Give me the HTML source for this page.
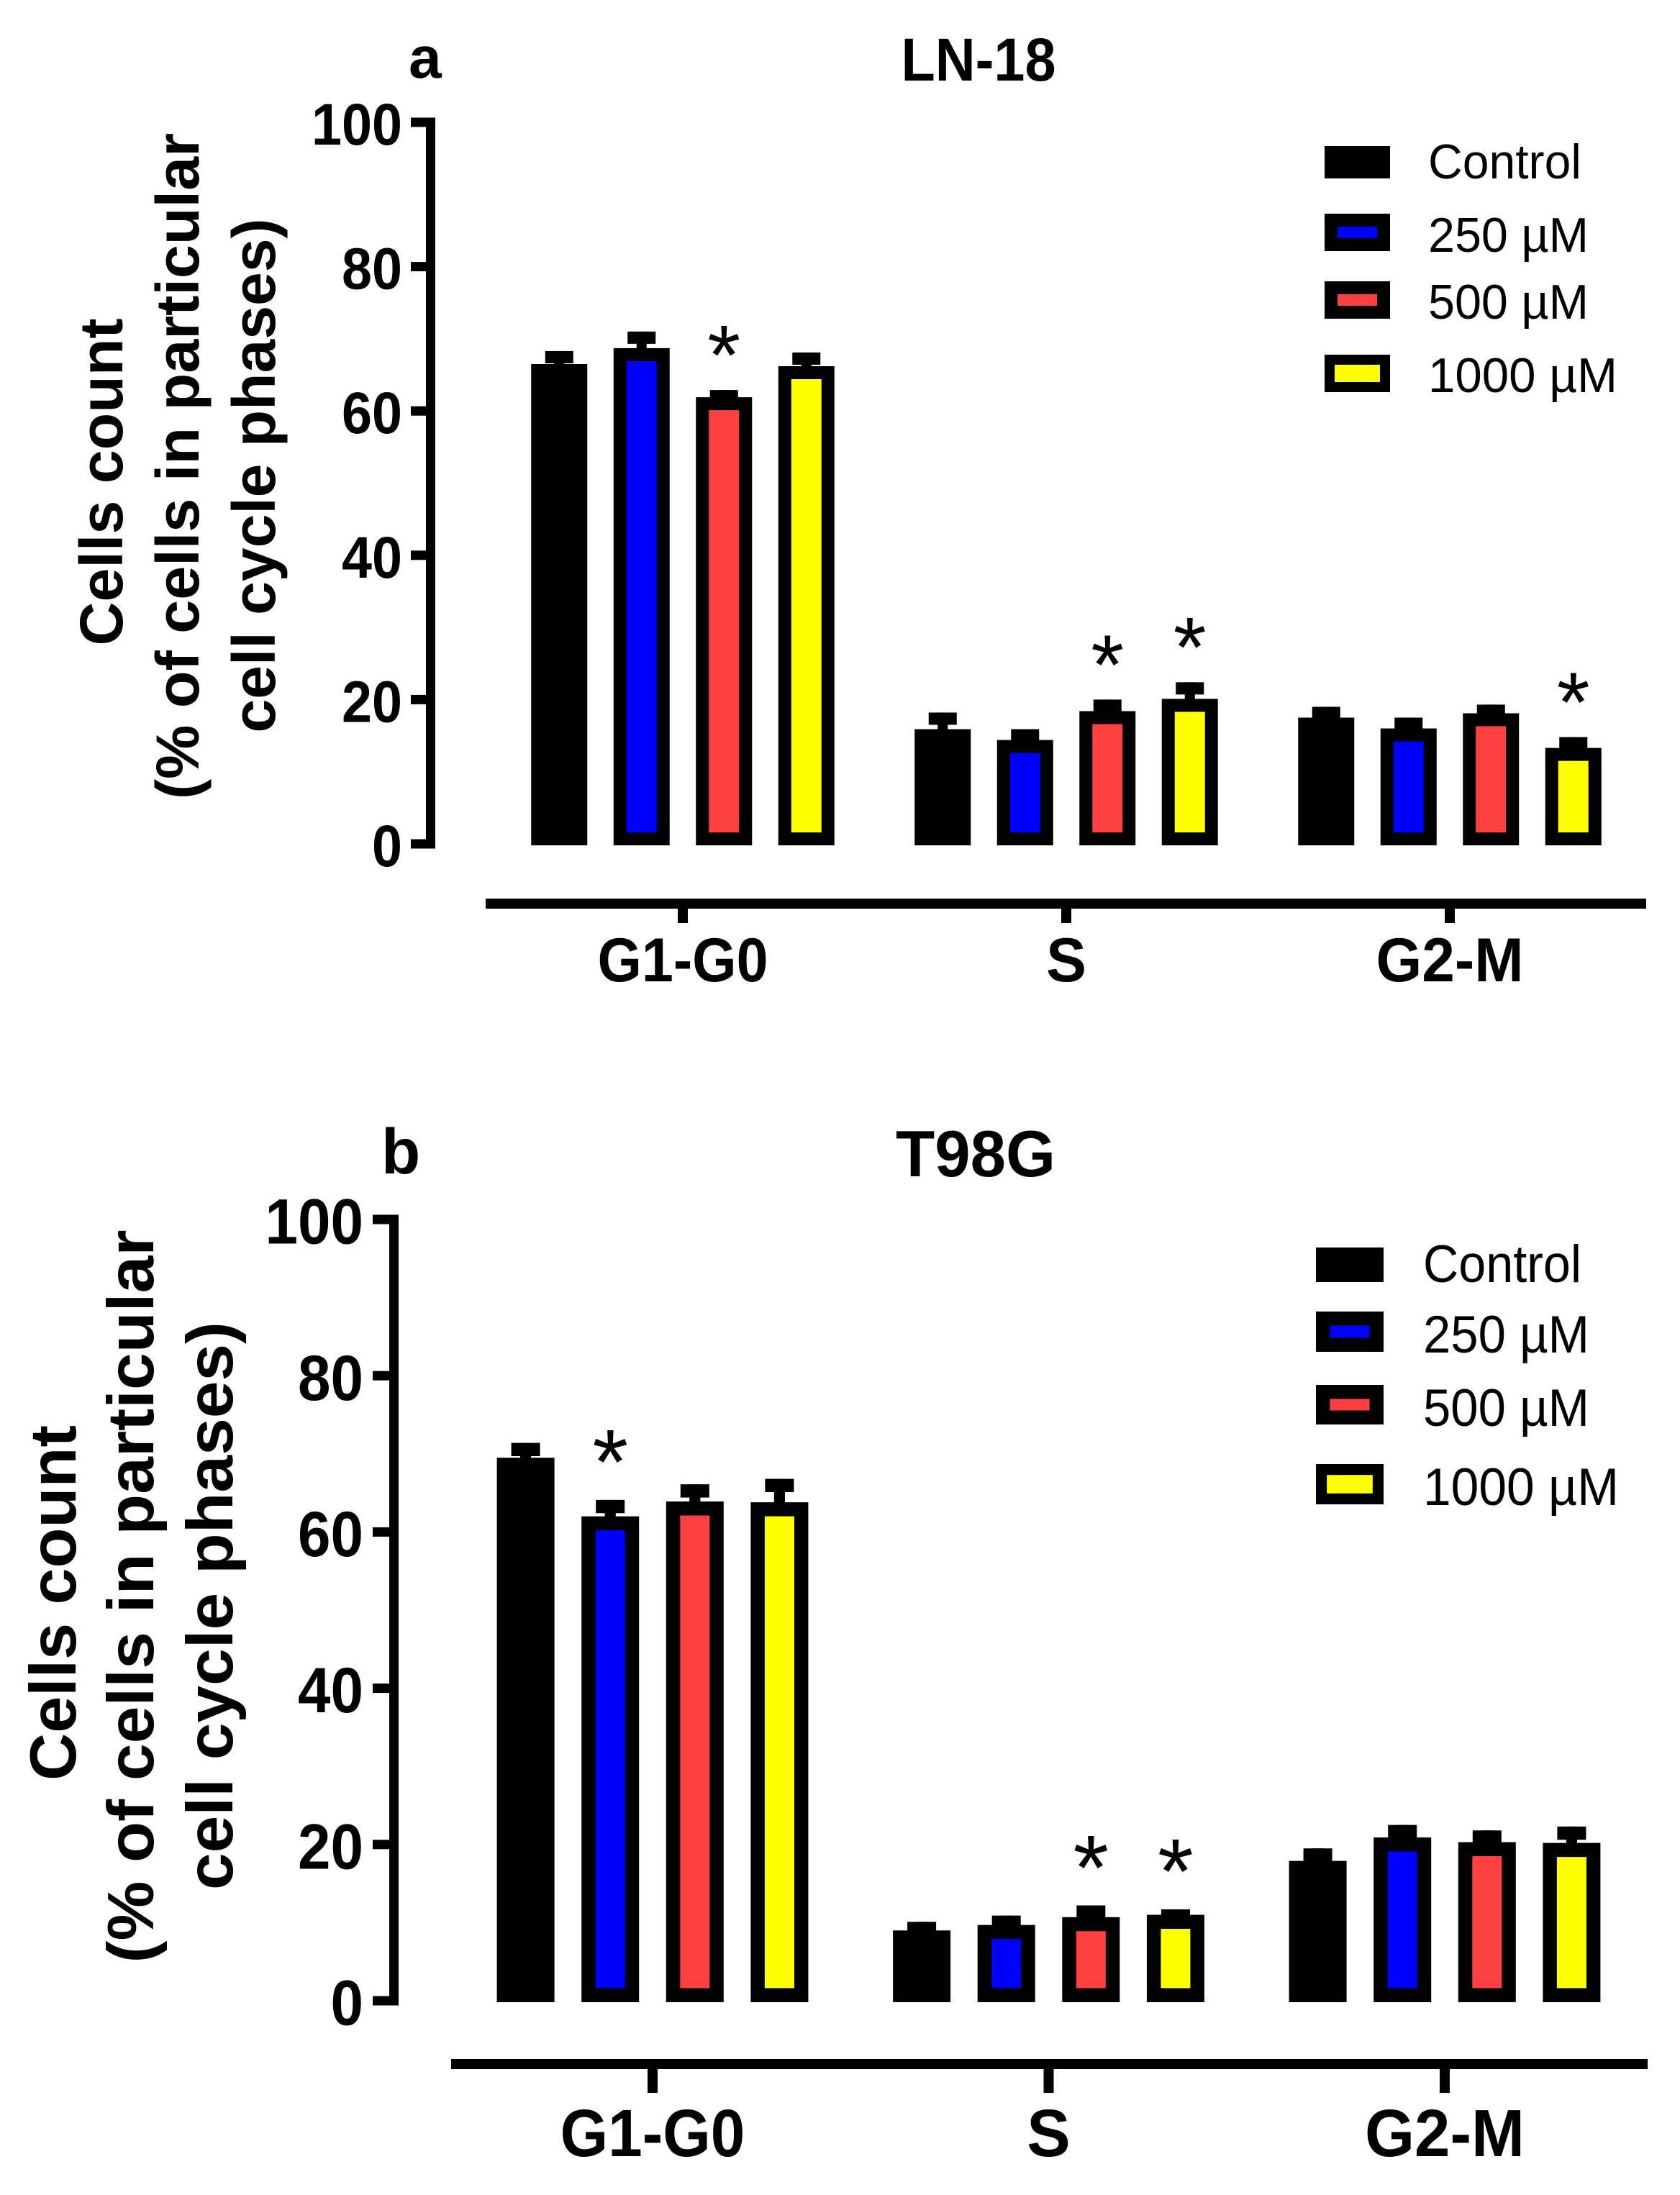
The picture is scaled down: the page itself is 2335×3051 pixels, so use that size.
<!DOCTYPE html>
<html><head><meta charset="utf-8"><style>
html,body{margin:0;padding:0;background:#fff;}
svg{display:block;}
text{font-family:"Liberation Sans",Arial,sans-serif;fill:#000;}
</style></head><body>
<svg id="fig" width="2335" height="3051" viewBox="0 0 2335 3051" xmlns="http://www.w3.org/2000/svg">
<rect width="2335" height="3051" fill="#fff"/>
<g id="panelA"></g>
<g id="panelB"></g>
</svg>
<script>
// ---- data ----
const categories = ["G1-G0", "S", "G2-M"];
const seriesNames = ["Control", "250 µM", "500 µM", "1000 µM"];
const yTicks = [0, 20, 40, 60, 80, 100];

// Panel a: LN-18
const aControl = [66.5, 15.9, 17.5];
const a250 = [68.7, 14.4, 16.0];
const a500 = [61.9, 18.4, 18.1];
const a1000 = [66.2, 20.1, 13.3];
const aControlErr = [1.8, 2.3, 1.5];
const a250Err = [2.3, 1.5, 1.5];
const a500Err = [1.0, 1.6, 1.2];
const a1000Err = [1.9, 2.3, 1.5];
const aControlSig = [0, 0, 0];
const a250Sig = [0, 0, 0];
const a500Sig = [1, 1, 0];
const a1000Sig = [0, 1, 1];

// Panel b: T98G
const bControl = [69.5, 9.0, 17.9];
const b250 = [62.0, 9.7, 20.9];
const b500 = [63.9, 10.7, 20.3];
const b1000 = [63.8, 11.0, 20.2];
const bControlErr = [1.9, 1.1, 1.6];
const b250Err = [2.1, 1.2, 1.6];
const b500Err = [2.2, 1.5, 1.5];
const b1000Err = [3.0, 0.7, 2.1];
const bControlSig = [0, 0, 0];
const b250Sig = [1, 0, 0];
const b500Sig = [0, 1, 0];
const b1000Sig = [0, 1, 0];

const fills = ["#000000", "#0000ff", "#ff4040", "#ffff00"];
const NS = "http://www.w3.org/2000/svg";

function mk(parent, tag, attrs, txt) {
  const e = document.createElementNS(NS, tag);
  for (const k in attrs) e.setAttribute(k, attrs[k]);
  if (txt !== undefined) e.textContent = txt;
  parent.appendChild(e);
  return e;
}

function drawPanel(g, L, series, errs, sigs) {
  const s = L.s;
  const yS = v => L.y0 - v * L.ppu;
  const xGroup = i => L.gc0 + L.gStep * i;
  const xBar = (i, j) => xGroup(i) + (j - 1.5) * L.pitch;

  let t = mk(g, "text", {x: L.letterX, y: L.titleY, "font-size": 82 * s, "font-weight": "bold"}, L.letter);
  
  
  t = mk(g, "text", {x: L.titleX, y: L.titleY + 4, "font-size": 84 * s, "font-weight": "bold", "text-anchor": "middle", textLength: L.titleLen, lengthAdjust: "spacingAndGlyphs"}, L.title);
  
  

  const yt = mk(g, "g", {});
  
  
  const lines = ["Cells count", "(% of cells in particular", "cell cycle phases)"];
  lines.forEach((ln, k) => {
    const e = mk(yt, "text", {transform: `translate(${L.ytBase[k]},${L.ytMid[k]}) rotate(-90)`,
      "font-size": 84 * s, "font-weight": "bold", "text-anchor": "middle",
      textLength: L.ytLen[k], lengthAdjust: "spacingAndGlyphs"}, ln);
    
    
  });

  const ya = mk(g, "g", {});
  
  
  const th = 13;
  const axLine = mk(ya, "rect", {x: L.axX, y: yS(100) - th / 2, width: th, height: (yS(0) - yS(100)) + th, fill: "#000"});
  
  
  yTicks.forEach(v => {
    const tk = mk(ya, "rect", {x: L.tickL, y: yS(v) - th / 2, width: L.axX - L.tickL + 1, height: th, fill: "#000"});
    
    
    const lb = mk(ya, "text", {x: L.tickL - 12 * s, y: yS(v) + 31 * s, "font-size": 82 * s, "font-weight": "bold", "text-anchor": "end", textLength: (String(v).length * 42) * s, lengthAdjust: "spacingAndGlyphs"}, String(v));
    
    
  });

  const xa = mk(g, "g", {});
  
  
  const xl = mk(xa, "rect", {x: L.xaL, y: L.xaY, width: L.xaR - L.xaL, height: 14, fill: "#000"});
  
  
  const catLen = [237, 56, 205];
  categories.forEach((c, i) => {
    const tk = mk(xa, "rect", {x: xGroup(i) - 7, y: L.xaY + 10, width: 14, height: L.tickB - L.xaY - 10, fill: "#000"});
    
    
    const lb = mk(xa, "text", {x: xGroup(i), y: L.catY, "font-size": 86 * s, "font-weight": "bold", "text-anchor": "middle", textLength: catLen[i] * s, lengthAdjust: "spacingAndGlyphs"}, c);
    
    
  });

  const ins = 18 * s;
  series.forEach((vals, j) => {
    const sg = mk(g, "g", {});
    
    
    vals.forEach((v, i) => {
      const cx = xBar(i, j);
      const top = yS(v), bot = yS(0);
      const ev = yS(v + errs[j][i]);
      const st = mk(sg, "rect", {x: cx - 7 * s, y: ev, width: 14 * s, height: top - ev + 2, fill: "#000"});
      
      
      const cp = mk(sg, "rect", {x: cx - L.barW / 4, y: ev, width: L.barW / 2, height: 17 * s, fill: "#000"});
      
      
      const b = mk(sg, "rect", {x: cx - L.barW / 2, y: top, width: L.barW, height: bot - top + 2, fill: "#000"});
      
      
      if (j > 0) {
        const inner = mk(sg, "rect", {x: cx - L.barW / 2 + ins, y: top + ins, width: L.barW - 2 * ins, height: Math.max(0, bot - top - 2 * ins + 2), fill: fills[j]});
        
        
      }
      if (sigs[j][i]) {
        const fz = 118 * s;
        const starBottom = ev - 60 * s;
        const st2 = mk(sg, "text", {x: cx, y: starBottom + 0.44 * fz, "font-size": fz, "text-anchor": "middle"}, "*");
        
        
      }
    });
  });

  const lg = mk(g, "g", {});
  
  
  seriesNames.forEach((nm, j) => {
    const r = L.leg[j];
    const en = mk(lg, "g", {});
    
    
    mk(en, "rect", {x: L.legX, y: r[0], width: L.legW, height: r[1] - r[0], fill: "#000"});
    if (j > 0) {
      const bi = j === 3 ? 14 * s : 18 * s;
      mk(en, "rect", {x: L.legX + bi, y: r[0] + bi, width: L.legW - 2 * bi, height: (r[1] - r[0]) - 2 * bi, fill: fills[j]});
    }
    mk(en, "text", {x: L.legTX, y: r[2], "font-size": 68 * s, textLength: L.legLen[j], lengthAdjust: "spacingAndGlyphs"}, nm);
  });
}

const layoutA = {s: 1, y0: 1173, ppu: 10.03, gc0: 949, gStep: 533, pitch: 114.5, barW: 78,
  axX: 592, tickL: 571, xaL: 675, xaR: 2288, xaY: 1249, tickB: 1283, catY: 1364,
  letter: "a", letterX: 568, title: "LN-18", titleX: 1360, titleLen: 215, titleY: 108,
  ytBase: [170, 276, 382], ytMid: [670, 648, 661], ytLen: [455, 926, 715],
  legX: 1841, legW: 91, legTX: 1985, legLen: [213, 223, 223, 263],
  leg: [[203, 248, 248], [297, 349, 350], [391, 443, 443], [493, 545, 545]]};
const layoutB = {s: 1.083, y0: 2781, ppu: 10.86, gc0: 907, gStep: 550.5, pitch: 117.6, barW: 80,
  axX: 541, tickL: 518, xaL: 627, xaR: 2290, xaY: 2862, tickB: 2909, catY: 2997,
  letter: "b", letterX: 530, title: "T98G", titleX: 1356, titleLen: 222, titleY: 1631,
  ytBase: [105, 213, 323], ytMid: [2228, 2219, 2232], ytLen: [494, 1019, 790],
  legX: 1829, legW: 94, legTX: 1978, legLen: [220, 231, 231, 272],
  leg: [[1734, 1782, 1782], [1823, 1879, 1880], [1925, 1980, 1982], [2035, 2091, 2092]]};

drawPanel(document.getElementById("panelA"), layoutA,
  [aControl, a250, a500, a1000], [aControlErr, a250Err, a500Err, a1000Err], [aControlSig, a250Sig, a500Sig, a1000Sig]);
drawPanel(document.getElementById("panelB"), layoutB,
  [bControl, b250, b500, b1000], [bControlErr, b250Err, b500Err, b1000Err], [bControlSig, b250Sig, b500Sig, b1000Sig]);
</script>
</body></html>
